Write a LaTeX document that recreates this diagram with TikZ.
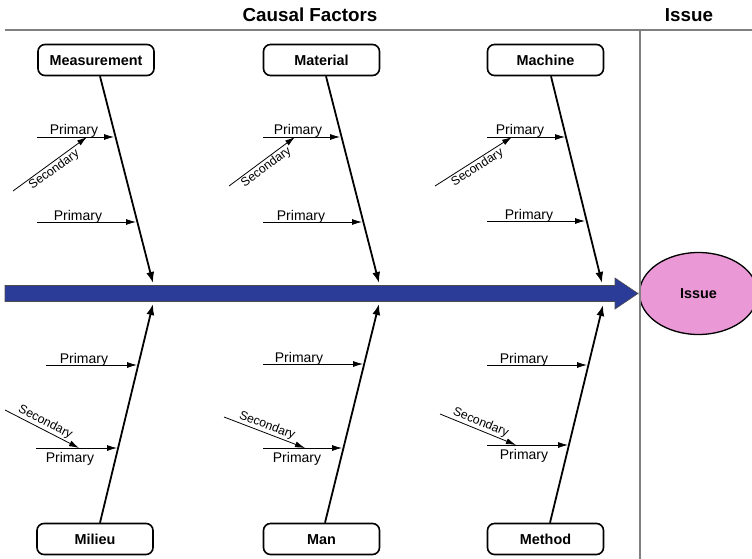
\documentclass[tikz,border=0pt]{standalone}
\usepackage{fontspec}
\setmainfont{Liberation Sans}
\usetikzlibrary{arrows.meta,shapes.geometric}
\definecolor{spineblue}{RGB}{42,59,152}
\definecolor{issuepink}{RGB}{234,153,214}
\definecolor{rulegray}{RGB}{128,128,128}
\tikzset{
 catbox/.style={draw=black, line width=1.6pt, rounded corners=7pt, fill=white, minimum width=116pt, minimum height=31pt, font=\fontsize{14.4}{16}\selectfont\bfseries, inner sep=0pt, text height=10.4pt, text depth=0pt},
 bone/.style={line width=1.8pt, -{Latex[length=11pt,width=8pt]}},
 primary/.style={line width=0.8pt, -{Latex[length=10pt,width=6pt]}},
 secondary/.style={line width=0.8pt, -{Latex[length=10pt,width=6pt]}},
 plabel/.style={font=\fontsize{14}{16}\selectfont, anchor=base, inner sep=0pt},
 slabel/.style={font=\fontsize{12.3}{14}\selectfont, inner sep=1.2pt},
 header/.style={font=\fontsize{18.8}{20}\selectfont\bfseries, inner sep=0pt},
 rule/.style={draw=rulegray, line width=1.8pt},
}
\begin{document}
\begin{tikzpicture}[x=1pt,y=-1pt]
\useasboundingbox (0,0) rectangle (752,559);
\begin{scope}
\clip (0,0) rectangle (752,559);

% headers and rules
\node[header] (hcf) at (310,15) {Causal Factors};
\node[header] (hiss) at (689,15) {Issue};

% issue ellipse
\node[ellipse, draw=black, line width=1.3pt, fill=issuepink, minimum width=118pt, minimum height=82pt, font=\fontsize{14.4}{16}\selectfont\bfseries] (issue) at (698.5,293.5) {Issue};

\draw[rule] (5,30) -- (752,30);
\draw[rule] (640,30) -- (640,559);

% spine
\draw[fill=spineblue, draw=black!70, line width=0.6pt]
  (5,285.5) -- (615,285.5) -- (615,278) -- (638,293.5) -- (615,309) -- (615,301.5) -- (5,301.5) -- cycle;

% category boxes
\node[catbox] (meas) at (96,60) {Measurement};
\node[catbox] (mat)  at (321.5,60) {Material};
\node[catbox] (mach) at (545.5,60) {Machine};
\node[catbox] (mil)  at (95,539) {Milieu};
\node[catbox] (man)  at (321.5,539) {Man};
\node[catbox] (meth) at (545.5,539) {Method};

% bone tips on the spine
\coordinate (tMeas) at (153,283);
\coordinate (tMat)  at (379,283);
\coordinate (tMach) at (602,283);
\coordinate (tMil)  at (153,304);
\coordinate (tMan)  at (379,304);
\coordinate (tMeth) at (603,305);

\draw[bone] ([xshift=4pt]meas.south) -- (tMeas);
\draw[bone] ([xshift=4.5pt]mat.south) -- (tMat);
\draw[bone] ([xshift=5.5pt]mach.south) -- (tMach);
\draw[bone] ([xshift=5pt]mil.north) -- (tMil);
\draw[bone] ([xshift=3.5pt]man.north) -- (tMan);
\draw[bone] ([xshift=4.5pt]meth.north) -- (tMeth);

% ---------- Measurement ----------
\coordinate (mP1s) at (37,137);  \coordinate (mP1e) at (114,137);
\coordinate (mP2s) at (37,222);  \coordinate (mP2e) at (136,222);
\coordinate (mSs) at (13,191);   \coordinate (mSe) at (87,137);
\draw[primary] (mP1s) -- (mP1e);
\draw[primary] (mP2s) -- (mP2e);
\draw[secondary] (mSs) -- node[slabel, sloped, below] (mSl) {Secondary} (mSe);
\node[plabel] (mP1l) at (74,135) {Primary};
\node[plabel] (mP2l) at (78,220) {Primary};

% ---------- Material ----------
\coordinate (aP1s) at (263,137); \coordinate (aP1e) at (340,137);
\coordinate (aP2s) at (263,222); \coordinate (aP2e) at (362,222);
\coordinate (aSs) at (229,186);  \coordinate (aSe) at (295,137);
\draw[primary] (aP1s) -- (aP1e);
\draw[primary] (aP2s) -- (aP2e);
\draw[secondary] (aSs) -- node[slabel, sloped, below] (aSl) {Secondary} (aSe);
\node[plabel] (aP1l) at (298,135) {Primary};
\node[plabel] (aP2l) at (301,220) {Primary};

% ---------- Machine ----------
\coordinate (cP1s) at (487,137); \coordinate (cP1e) at (565,137);
\coordinate (cP2s) at (487,221); \coordinate (cP2e) at (585,221);
\coordinate (cSs) at (435,186);  \coordinate (cSe) at (512,137);
\draw[primary] (cP1s) -- (cP1e);
\draw[primary] (cP2s) -- (cP2e);
\draw[secondary] (cSs) -- node[slabel, sloped, below] (cSl) {Secondary} (cSe);
\node[plabel] (cP1l) at (520,135) {Primary};
\node[plabel] (cP2l) at (529,219) {Primary};

% ---------- Milieu ----------
\coordinate (lP1s) at (46,365);  \coordinate (lP1e) at (137,365);
\coordinate (lP2s) at (36,448);  \coordinate (lP2e) at (117,448);
\coordinate (lSs) at (5,410);    \coordinate (lSe) at (79,448);
\draw[primary] (lP1s) -- (lP1e);
\draw[primary] (lP2s) -- (lP2e);
\draw[secondary] (lSs) -- node[slabel, sloped, above] (lSl) {Secondary} (lSe);
\node[plabel] (lP1l) at (84,363) {Primary};
\node[plabel] (lP2l) at (70,462) {Primary};

% ---------- Man ----------
\coordinate (nP1s) at (263,364); \coordinate (nP1e) at (363,364);
\coordinate (nP2s) at (263,448); \coordinate (nP2e) at (342,448);
\coordinate (nSs) at (224,417);  \coordinate (nSe) at (305,448);
\draw[primary] (nP1s) -- (nP1e);
\draw[primary] (nP2s) -- (nP2e);
\draw[secondary] (nSs) -- node[slabel, sloped, above] (nSl) {Secondary} (nSe);
\node[plabel] (nP1l) at (299,362) {Primary};
\node[plabel] (nP2l) at (297,462) {Primary};

% ---------- Method ----------
\coordinate (tP1s) at (487,365); \coordinate (tP1e) at (587,365);
\coordinate (tP2s) at (487,445); \coordinate (tP2e) at (568,445);
\coordinate (tSs) at (440,414);  \coordinate (tSe) at (516,445);
\draw[primary] (tP1s) -- (tP1e);
\draw[primary] (tP2s) -- (tP2e);
\draw[secondary] (tSs) -- node[slabel, sloped, above] (tSl) {Secondary} (tSe);
\node[plabel] (tP1l) at (524,363) {Primary};
\node[plabel] (tP2l) at (524,459) {Primary};

\end{scope}
\end{tikzpicture}
\end{document}
